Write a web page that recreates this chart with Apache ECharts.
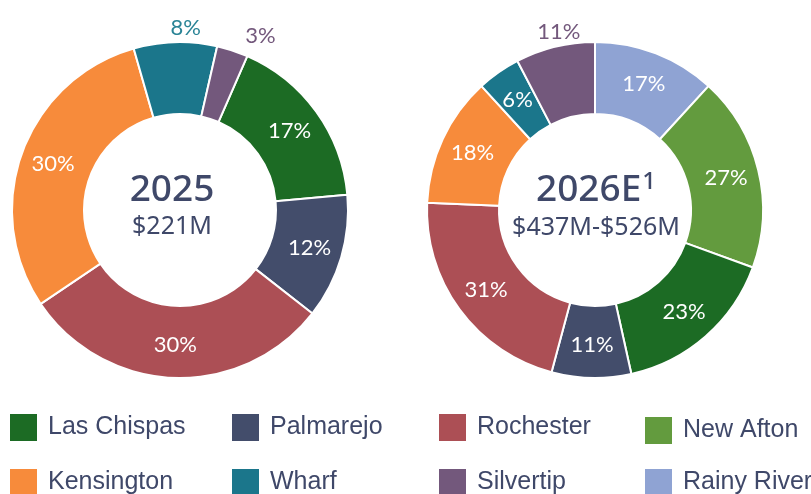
<!DOCTYPE html>
<html>
<head>
<meta charset="utf-8">
<script src="https://cdn.jsdelivr.net/npm/echarts@6/dist/echarts.min.js"></script>
<style>
  html, body { margin: 0; padding: 0; background: #fff; }
  #chart { width: 811px; height: 494px; }
</style>
</head>
<body>
<div id="chart"></div>
<script>
// 2025 mix, clockwise from Las Chispas
const names2025 = ["Las Chispas", "Palmarejo", "Rochester", "Kensington", "Wharf", "Silvertip"];
const values2025 = [17, 12, 30, 30, 8, 3];
// 2026E mix, clockwise from top
const names2026 = ["Rainy River", "New Afton", "Las Chispas", "Palmarejo", "Rochester", "Kensington", "Wharf", "Silvertip"];
const values2026 = [17, 27, 23, 11, 31, 18, 6, 11];
const centerTitles = ["2025", "2026E"];
const centerSubtitles = ["$221M", "$437M-$526M"];
// legend grid, row by row
const legendRows = [
  ["Las Chispas", "Palmarejo", "Rochester", "New Afton"],
  ["Kensington", "Wharf", "Silvertip", "Rainy River"]
];

const mineColors = {
  "Las Chispas": "#1c6b24",
  "Palmarejo": "#434d6b",
  "Rochester": "#ac4f55",
  "New Afton": "#639b3e",
  "Kensington": "#f78b3b",
  "Wharf": "#1b768b",
  "Silvertip": "#73587c",
  "Rainy River": "#8fa3d3"
};
const textColor = "#3f4869";

// small slices whose labels sit outside the ring
const outsideLabel = {
  "2025|Wharf": { length: 14, length2: -31, color: "#2a8496" },
  "2025|Silvertip": { length: 15, length2: 3, color: "#73587c" },
  "2026|Silvertip": { length: 15, length2: -34, color: "#73587c" }
};

function buildData(key, names, values) {
  return names.map(function (n, i) {
    const item = {
      name: n,
      value: values[i],
      itemStyle: { color: mineColors[n] }
    };
    const out = outsideLabel[key + "|" + n];
    if (out) {
      item.label = { position: "outside", color: out.color };
      item.labelLine = { show: false, length: out.length, length2: out.length2 };
    }
    return item;
  });
}

function pieSeries(key, names, values, center, startAngle) {
  return {
    type: "pie",
    center: center,
    radius: [96, 168],
    startAngle: startAngle,
    clockwise: true,
    avoidLabelOverlap: false,
    animation: false,
    itemStyle: { borderColor: "#fff", borderWidth: 2 },
    label: {
      show: true,
      position: "inside",
      formatter: "{c}%",
      color: "#fff",
      fontFamily: "Lato",
      fontSize: 22
    },
    labelLine: { show: false },
    emphasis: { disabled: true },
    data: buildData(key, names, values)
  };
}

// one legend per entry so the columns line up like the original
const legendLefts = [8, 230, 437, 643];
const legends = [];
legendRows.forEach(function (row, r) {
  row.forEach(function (name, c) {
    legends.push({
      left: legendLefts[c],
      top: r === 0 ? (c === 3 ? 415 : 412) : 467,
      padding: 0,
      itemWidth: 29,
      itemHeight: 29,
      icon: "rect",
      selectedMode: false,
      data: [name],
      textStyle: {
        color: textColor,
        fontFamily: "Liberation Sans",
        fontSize: 25,
        padding: [0, 0, 0, 5]
      }
    });
  });
});

const chart = echarts.init(document.getElementById("chart"));
chart.setOption({
  backgroundColor: "#fff",
  legend: legends,
  series: [
    pieSeries("2025", names2025, values2025, [180, 210], 66.4),
    pieSeries("2026", names2026, values2026, [595, 210], 90)
  ],
  graphic: [
    {
      type: "text", x: 172, y: 190,
      style: {
        text: centerTitles[0], fill: textColor, font: "500 37px 'Noto Sans'",
        textAlign: "center", textVerticalAlign: "middle"
      }
    },
    {
      type: "text", x: 172, y: 227,
      style: {
        text: centerSubtitles[0], fill: textColor, font: "25px 'Noto Sans'",
        textAlign: "center", textVerticalAlign: "middle"
      }
    },
    {
      type: "text", x: 596, y: 190,
      style: {
        text: "{a|" + centerTitles[1] + "}{b|1}",
        textAlign: "center", textVerticalAlign: "middle",
        rich: {
          a: { fill: textColor, fontFamily: "Noto Sans", fontWeight: 500, fontSize: 37 },
          b: { fill: textColor, fontFamily: "Noto Sans", fontWeight: 500, fontSize: 24, verticalAlign: "top", padding: [0, 0, 16, 1] }
        }
      }
    },
    {
      type: "text", x: 596, y: 228,
      style: {
        text: centerSubtitles[1], fill: textColor, font: "25px 'Noto Sans'",
        textAlign: "center", textVerticalAlign: "middle"
      }
    }
  ]
});
</script>
</body>
</html>
